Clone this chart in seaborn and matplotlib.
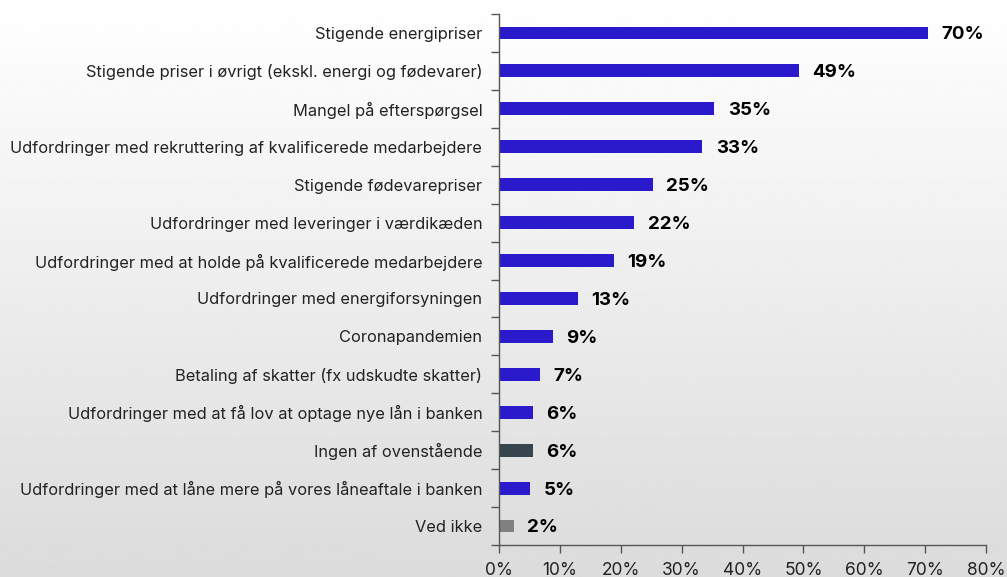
import numpy as np
import pandas as pd
import matplotlib
matplotlib.use("Agg")
import matplotlib.pyplot as plt
import seaborn as sns
from matplotlib.ticker import FixedLocator, PercentFormatter

categories = [
    "Stigende energipriser",
    "Stigende priser i øvrigt (ekskl. energi og fødevarer)",
    "Mangel på efterspørgsel",
    "Udfordringer med rekruttering af kvalificerede medarbejdere",
    "Stigende fødevarepriser",
    "Udfordringer med leveringer i værdikæden",
    "Udfordringer med at holde på kvalificerede medarbejdere",
    "Udfordringer med energiforsyningen",
    "Coronapandemien",
    "Betaling af skatter (fx udskudte skatter)",
    "Udfordringer med at få lov at optage nye lån i banken",
    "Ingen af ovenstående",
    "Udfordringer med at låne mere på vores låneaftale i banken",
    "Ved ikke",
]
values = [70.4, 49.3, 35.4, 33.4, 25.3, 22.2, 18.9, 13.0, 8.9, 6.7, 5.6, 5.6, 5.1, 2.4]
labels = ["70%", "49%", "35%", "33%", "25%", "22%", "19%", "13%", "9%", "7%", "6%", "6%", "5%", "2%"]
groups = ["main"] * 11 + ["none", "main", "dontknow"]
palette = {"main": "#2b1acc", "none": "#37454f", "dontknow": "#808080"}

df = pd.DataFrame({"category": categories, "value": values, "group": groups})

sns.set_style("white")
plt.rcParams["font.family"] = ["Inter", "DejaVu Sans"]

fig = plt.figure(figsize=(10.07, 5.77), dpi=100)

# gradient background
bg = fig.add_axes([0, 0, 1, 1], zorder=-10)
grad = np.linspace(1.0, 0.86, 256).reshape(-1, 1)
bg.imshow(grad, aspect="auto", cmap="gray", vmin=0, vmax=1, extent=[0, 1, 0, 1])
bg.axis("off")

ax = fig.add_axes([499 / 1007, 32 / 577, 487 / 1007, 531 / 577])
ax.set_facecolor("none")
sns.barplot(data=df, x="value", y="category", hue="group", palette=palette,
            dodge=False, legend=False, width=0.34, ax=ax, orient="h",
            saturation=1, linewidth=0)

for i, (v, lab) in enumerate(zip(values, labels)):
    ax.text(v + 2.2, i + 0.05, lab, va="center", ha="left",
            fontsize=13.5, fontweight="bold", color="black")

ax.set_xlim(0, 80)
ax.set_ylim(len(categories) - 0.5, -0.5)
ax.xaxis.set_major_locator(FixedLocator(np.arange(0, 81, 10)))
ax.xaxis.set_major_formatter(PercentFormatter(decimals=0))
ax.set_yticks(np.arange(len(categories)))
ax.set_yticklabels(categories)
ax.yaxis.set_minor_locator(FixedLocator(np.arange(-0.5, len(categories), 1)))
ax.tick_params(axis="y", which="major", length=0, pad=12, labelsize=11.8, colors="#222222")
ax.tick_params(axis="y", which="minor", length=6, width=1, color="#555555", left=True)
ax.tick_params(axis="x", which="major", length=6, width=1, color="#555555", bottom=True,
               labelsize=12.5, labelcolor="#222222", pad=6)
ax.set_xlabel("")
ax.set_ylabel("")
for side in ["top", "right"]:
    ax.spines[side].set_visible(False)
for side in ["left", "bottom"]:
    ax.spines[side].set_color("#555555")
    ax.spines[side].set_linewidth(1)

fig.savefig("out.png", dpi=100)
